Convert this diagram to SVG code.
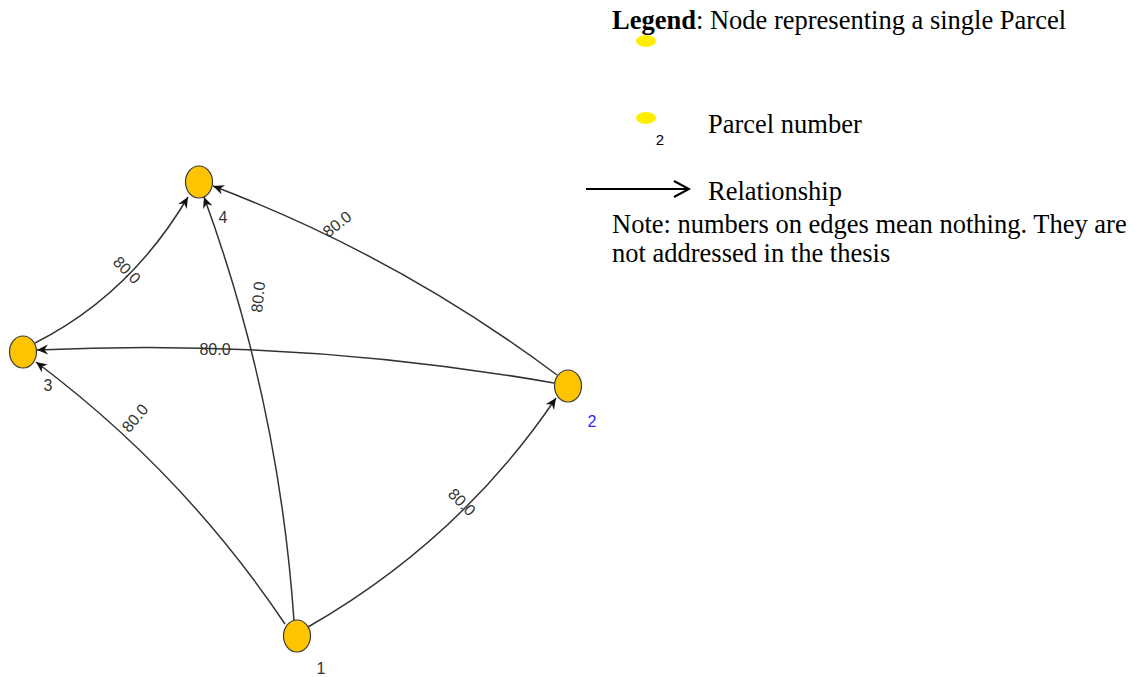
<svg xmlns="http://www.w3.org/2000/svg" width="1135" height="677" viewBox="0 0 1135 677">
<style>
.node{fill:#ffc400;stroke:#3a3a3a;stroke-width:1.2}
.edge{fill:none;stroke:#333;stroke-width:1.5}
.elab{font-family:"Liberation Sans",Arial,sans-serif;font-size:16px;fill:#333;text-anchor:middle}
.nlab{font-family:"Liberation Sans",Arial,sans-serif;font-size:16px;fill:#333;text-anchor:middle}
.leg{font-family:"Liberation Serif","Times New Roman",serif;font-size:26.5px;fill:#000}
</style>
<defs>
<marker id="arr" viewBox="-12 -6 13 12" refX="0" refY="0" markerWidth="13" markerHeight="12" markerUnits="userSpaceOnUse" orient="auto">
<path d="M0,0 L-11,-5 L-7.5,0 L-11,5 Z" fill="#111"/>
</marker>
</defs>
<g id="edges">
<path class="edge" d="M35,343 Q130,295 188,197" marker-end="url(#arr)"/>
<path class="edge" d="M294,621 Q279,402 204,197" marker-end="url(#arr)"/>
<path class="edge" d="M557,375 Q398,256 213,186" marker-end="url(#arr)"/>
<path class="edge" d="M554,383 Q298,338 37,350" marker-end="url(#arr)"/>
<path class="edge" d="M285,624 Q183,472 36,362" marker-end="url(#arr)"/>
<path class="edge" d="M308,627 Q460,540 556,398" marker-end="url(#arr)"/>
<text class="elab" transform="translate(127,270) rotate(45)" dy="0.35em">80.0</text>
<text class="elab" transform="translate(258,297) rotate(-84)" dy="0.35em">80.0</text>
<text class="elab" transform="translate(215,349)" dy="0.35em">80.0</text>
<text class="elab" transform="translate(337,224) rotate(-38)" dy="0.35em">80.0</text>
<text class="elab" transform="translate(135,418) rotate(-50)" dy="0.35em">80.0</text>
<text class="elab" transform="translate(462,502) rotate(45)" dy="0.35em">80.0</text>
</g>
<g id="node1"><ellipse class="node" cx="297" cy="636" rx="13.5" ry="16"/><text class="nlab" x="321" y="674">1</text></g>
<g id="node2"><ellipse class="node" cx="568" cy="386" rx="13.5" ry="16"/><text class="nlab" x="592" y="427" style="fill:#2626ff">2</text></g>
<g id="node3"><ellipse class="node" cx="23" cy="352" rx="13.5" ry="16"/><text class="nlab" x="48" y="391">3</text></g>
<g id="node4"><ellipse class="node" cx="199" cy="182" rx="13.5" ry="16"/><text class="nlab" x="223" y="223">4</text></g>
<g id="legend">
<text class="leg" x="612" y="29"><tspan font-weight="bold">Legend</tspan>: Node representing a single Parcel</text>
<ellipse cx="646" cy="41" rx="10" ry="6" fill="#ffee00"/>
<ellipse cx="646" cy="118" rx="10" ry="6" fill="#ffee00"/>
<text x="660" y="145" style="font-family:'Liberation Sans',Arial,sans-serif;font-size:15px;fill:#000;text-anchor:middle">2</text>
<text class="leg" x="708" y="133">Parcel number</text>
<line x1="586" y1="189" x2="688" y2="189" stroke="#000" stroke-width="2"/>
<path d="M674,181 L689,189 L674,197" fill="none" stroke="#000" stroke-width="2"/>
<text class="leg" x="708" y="200">Relationship</text>
<text class="leg" x="612" y="233">Note: numbers on edges mean nothing. They are</text>
<text class="leg" x="612" y="262">not addressed in the thesis</text>
</g>
</svg>
